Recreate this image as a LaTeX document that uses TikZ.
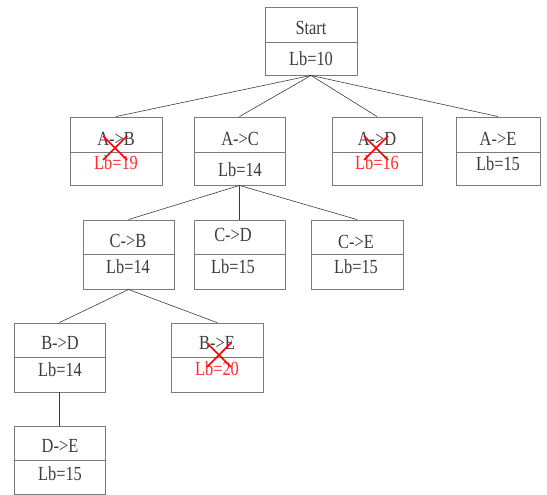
\documentclass[tikz,border=0pt]{standalone}
\usepackage{fontspec}
\newfontfamily\boxfont[FakeStretch=0.82]{Liberation Serif}
\definecolor{framegray}{HTML}{7A7A7A}
\definecolor{inkgray}{HTML}{3C3C3C}
\definecolor{cutred}{HTML}{FF0000}
\definecolor{cuttext}{HTML}{FF2A2A}
\tikzset{
  frame/.style={draw=framegray, line width=0.9pt},
  boxshape/.style={frame, rectangle, inner sep=0pt},
  lbl/.style={inner sep=0pt, text=inkgray, font=\boxfont\fontsize{20}{20}\selectfont},
  cutlbl/.style={lbl, text=cuttext},
  link/.style={draw=inkgray, line width=0.6pt},
  cut/.style={draw=cutred, line width=1.6pt}
}
% #1 name, #2 left, #3 right, #4 top, #5 divider, #6 bottom
\newcommand\lbbox[6]{%
  \node[boxshape, minimum width={#3-#2}, minimum height={#6-#4}]
    (#1) at ({(#2+#3)/2},{(#4+#6)/2}) {};
  \draw[frame] (#2,#5) -- (#3,#5);
}
% #1 name, #2 centre x, #3 centre y, #4 half size
\newcommand\crossout[4]{%
  \coordinate (#1-a) at ({#2-#4},{#3-#4});
  \coordinate (#1-b) at ({#2+#4},{#3+#4});
  \coordinate (#1-c) at ({#2+#4},{#3-#4});
  \coordinate (#1-d) at ({#2-#4},{#3+#4});
  \draw[cut] (#1-a) -- (#1-b);
  \draw[cut] (#1-c) -- (#1-d);
}
\begin{document}
\begin{tikzpicture}[x=1pt,y=-1pt]
  \useasboundingbox (0,0) rectangle (547,495);

  % boxes
  \lbbox{start}{265}{357}{7}{42}{75}
  \lbbox{ab}{70}{162}{117}{152}{185}
  \lbbox{ac}{194}{285}{117}{152}{185}
  \lbbox{ad}{332}{422}{117}{152}{185}
  \lbbox{ae}{456}{540}{117}{152}{185}
  \lbbox{cb}{83}{174}{220}{254}{289}
  \lbbox{cd}{194}{285}{220}{254}{289}
  \lbbox{ce}{311}{403}{220}{254}{289}
  \lbbox{bd}{14}{105}{323}{357}{392}
  \lbbox{be}{171}{263}{323}{357}{392}
  \lbbox{de}{14}{105}{426}{460}{494}

  % labels
  \node[lbl] (start-t) at (311,28) {Start};
  \node[lbl] (start-b) at (311,59) {Lb=10};
  \node[lbl] (ab-t) at (116,139) {A->B};
  \node[cutlbl] (ab-b) at (116,163) {Lb=19};
  \node[lbl] (ac-t) at (240,139) {A->C};
  \node[lbl] (ac-b) at (240,170) {Lb=14};
  \node[lbl] (ad-t) at (377,139) {A->D};
  \node[cutlbl] (ad-b) at (377,163) {Lb=16};
  \node[lbl] (ae-t) at (498,139) {A->E};
  \node[lbl] (ae-b) at (498,164) {Lb=15};
  \node[lbl] (cb-t) at (128,241) {C->B};
  \node[lbl] (cb-b) at (128,267) {Lb=14};
  \node[lbl] (cd-t) at (233,235) {C->D};
  \node[lbl] (cd-b) at (233,267) {Lb=15};
  \node[lbl] (ce-t) at (356,242) {C->E};
  \node[lbl] (ce-b) at (356,267) {Lb=15};
  \node[lbl] (bd-t) at (60,343) {B->D};
  \node[lbl] (bd-b) at (60,370) {Lb=14};
  \node[lbl] (be-t) at (217,343) {B->E};
  \node[cutlbl] (be-b) at (217,369) {Lb=20};
  \node[lbl] (de-t) at (60,446) {D->E};
  \node[lbl] (de-b) at (60,474) {Lb=15};

  % tree links
  \draw[link] (start.south) -- (ab.north);
  \draw[link] (start.south) -- (ac.north);
  \draw[link] (start.south) -- (ad.north);
  \draw[link] (start.south) -- (ae.north);
  \draw[link] (ac.south) -- (cb.north);
  \draw[link] (ac.south) -- (cd.north);
  \draw[link] (ac.south) -- (ce.north);
  \draw[link] (cb.south) -- (bd.north);
  \draw[link] (cb.south) -- (be.north);
  \draw[link] (bd.south) -- (de.north);

  % pruned branches
  \crossout{xab}{115}{148}{12}
  \crossout{xad}{376}{148}{12}
  \crossout{xbe}{219}{355}{12}
\end{tikzpicture}
\end{document}
